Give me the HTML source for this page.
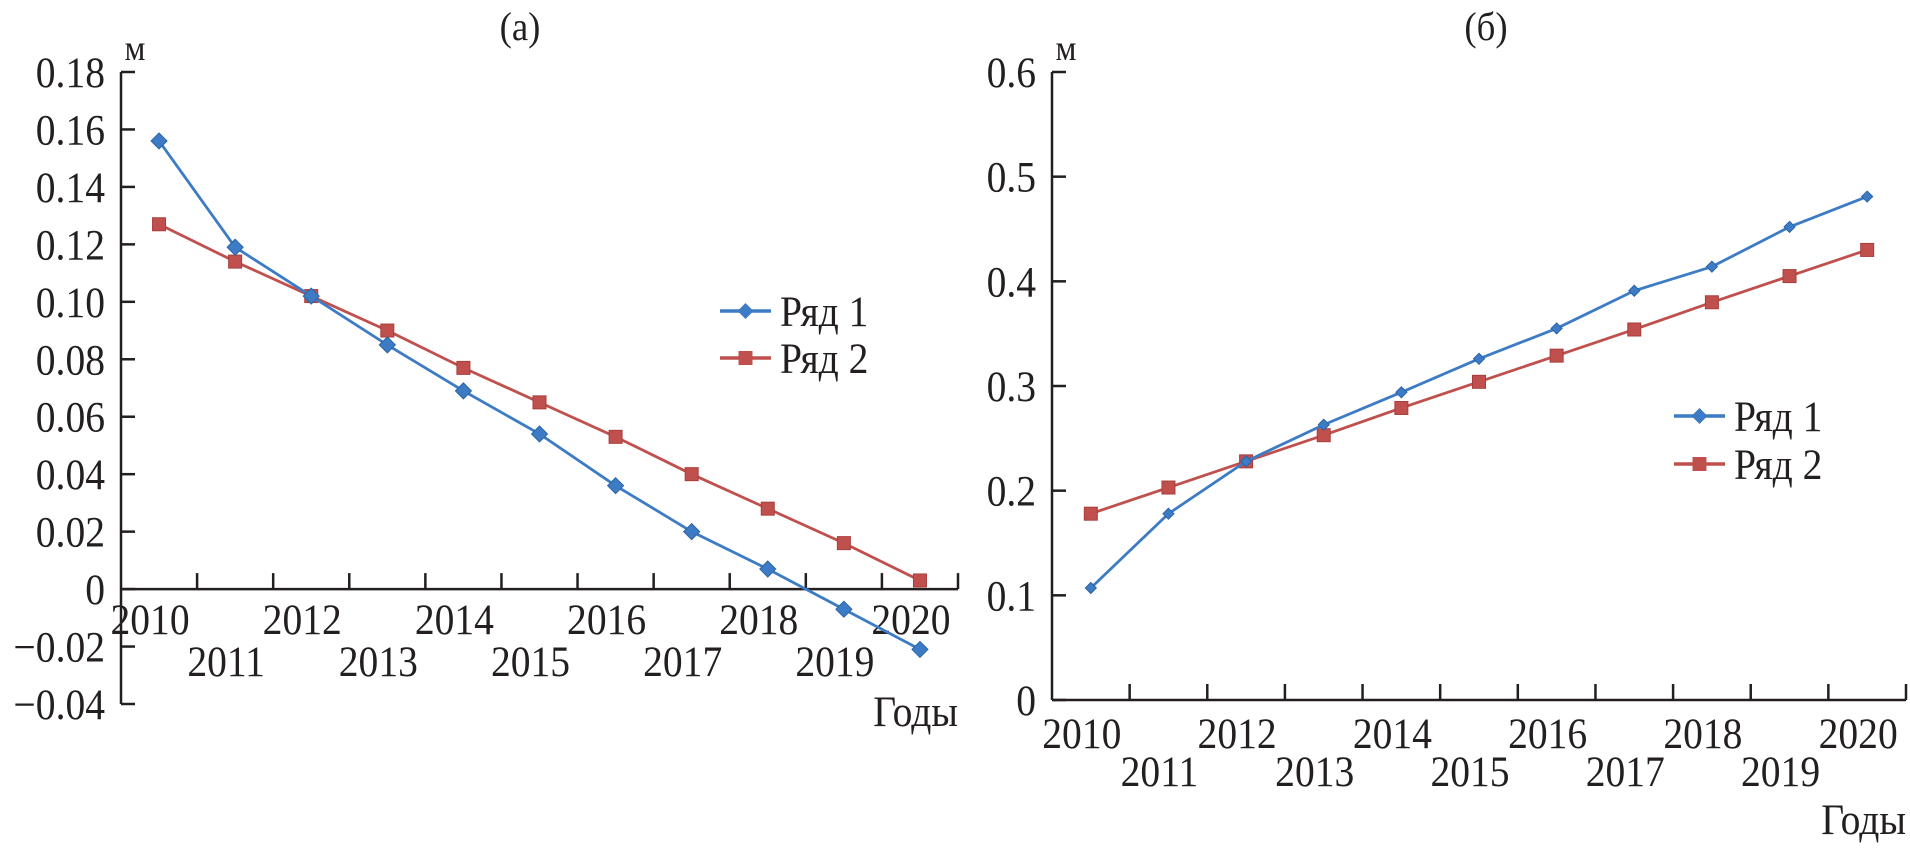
<!DOCTYPE html>
<html><head><meta charset="utf-8"><style>
html,body{margin:0;padding:0;background:#fff;}
svg{display:block;font-family:"Liberation Serif","DejaVu Serif",serif;}
</style></head><body>
<svg id="chart" width="1910" height="848" viewBox="0 0 1910 848" xmlns="http://www.w3.org/2000/svg"></svg>
<script>
const years = ['2010','2011','2012','2013','2014','2015','2016','2017','2018','2019','2020'];
const aSeries1 = [0.156,0.119,0.102,0.085,0.069,0.054,0.036,0.020,0.007,-0.007,-0.021];
const aSeries2 = [0.127,0.114,0.102,0.090,0.077,0.065,0.053,0.040,0.028,0.016,0.003];
const aTicks = ['0.18','0.16','0.14','0.12','0.10','0.08','0.06','0.04','0.02','0','\u22120.02','\u22120.04'];
const aTickVals = [0.18,0.16,0.14,0.12,0.10,0.08,0.06,0.04,0.02,0,-0.02,-0.04];
const bSeries1 = [0.107,0.178,0.228,0.263,0.294,0.326,0.355,0.391,0.414,0.452,0.481];
const bSeries2 = [0.178,0.203,0.228,0.253,0.279,0.304,0.329,0.354,0.380,0.405,0.430];
const bTicks = ['0.6','0.5','0.4','0.3','0.2','0.1','0'];
const bTickVals = [0.6,0.5,0.4,0.3,0.2,0.1,0];

const NS='http://www.w3.org/2000/svg';
const svg=document.getElementById('chart');
const BLUE='#3d7cc4', RED='#c0504d';
function mk(tag,attrs,parent){const e=document.createElementNS(NS,tag);for(const k in attrs)e.setAttribute(k,attrs[k]);(parent||svg).appendChild(e);return e;}
function txt(g,s,x,y,anchor,size,name){
  const t=mk('text',{transform:`translate(${x},${y}) scale(0.92,1)`,'text-anchor':anchor,'font-size':size,fill:'#231f20'},g);
  
  
  t.textContent=s;return t;
}

function panel(id,cfg){
  const g=mk('g',{});
  
  
  const {x0,x1,yTop,yTopVal,yBot,yBotVal,zeroVal}=cfg;
  const n=years.length, step=(x1-x0)/n;
  const X=i=>x0+step*(i+0.5);
  const Y=v=>yTop+(yTopVal-v)*(yBot-yTop)/(yTopVal-yBotVal);
  const y0=Y(zeroVal);
  const ya=mk('line',{x1:x0,y1:yTop,x2:x0,y2:yBot,stroke:'#231f20','stroke-width':2.5},g);
  
  const xa=mk('line',{x1:x0,y1:y0,x2:x1,y2:y0,stroke:'#231f20','stroke-width':2.5},g);
  
  cfg.tickVals.forEach((v,i)=>{
    const yy=Y(v);
    const t=mk('line',{x1:x0,y1:yy,x2:x0+14,y2:yy,stroke:'#231f20','stroke-width':2.5},g);
    
    txt(g,cfg.ticks[i],x0-16,yy+15,'end',43,'y-tick-label');
  });
  for(let i=1;i<=n;i++){
    const xx=x0+step*i;
    const t=mk('line',{x1:xx,y1:y0,x2:xx,y2:y0-16,stroke:'#231f20','stroke-width':2.5},g);
    
  }
  years.forEach((yr,i)=>{
    const yy=(i%2===0)?cfg.evenY:cfg.oddY;
    txt(g,yr,X(i)-9,yy+15,'middle',43,'x-tick-label');
  });
  txt(g,'Годы',x1,cfg.godyY+15,'end',43,'x-axis-title');
  txt(g,'м',x0+14,cfg.mY+10,'middle',36,'y-axis-unit');
  txt(g,cfg.title,cfg.titleX,40,'middle',40,'panel-title');
  const draw=(vals,color,shape,sz,name)=>{
    const pts=vals.map((v,i)=>`${X(i)},${Y(v)}`).join(' ');
    const pl=mk('polyline',{points:pts,fill:'none',stroke:color,'stroke-width':2.8},g);
    
    vals.forEach((v,i)=>{
      let m;
      if(shape==='d'){const cx=X(i),cy=Y(v);m=mk('polygon',{points:`${cx},${cy-sz} ${cx+sz},${cy} ${cx},${cy+sz} ${cx-sz},${cy}`,fill:color,stroke:'#2a64a8','stroke-width':1},g);}
      else{m=mk('rect',{x:X(i)-sz,y:Y(v)-sz,width:2*sz,height:2*sz,fill:color,stroke:'#a83e3b','stroke-width':1},g);}
      
    });
  };
  draw(cfg.s2,RED,'s',6.5,'series-2');
  draw(cfg.s1,BLUE,'d',cfg.dsz,'series-1');
  const L=cfg.leg;
  [[BLUE,'d','Ряд 1',L.y1],[RED,'s','Ряд 2',L.y2]].forEach(([c,s,lab,ly],k)=>{
    const lg=mk('g',{},g);
    
    mk('line',{x1:L.x,y1:ly,x2:L.x+51,y2:ly,stroke:c,'stroke-width':3.5},lg);
    const cx=L.x+25.5;
    if(s==='d')mk('polygon',{points:`${cx},${ly-8} ${cx+8},${ly} ${cx},${ly+8} ${cx-8},${ly}`,fill:c},lg);
    else mk('rect',{x:cx-7,y:ly-7,width:14,height:14,fill:c},lg);
    txt(lg,lab,L.x+60,ly+15,'start',43,'legend-label');
  });
}

panel('panel-a',{x0:121,x1:958,yTop:72,yTopVal:0.18,yBot:704,yBotVal:-0.04,zeroVal:0,
  ticks:aTicks,tickVals:aTickVals,s1:aSeries1,s2:aSeries2,dsz:8,
  evenY:619,oddY:661,godyY:711,mY:50,title:'(a)',titleX:520,leg:{x:720,y1:311,y2:358}});
panel('panel-b',{x0:1052,x1:1906,yTop:72,yTopVal:0.6,yBot:700,yBotVal:0,zeroVal:0,
  ticks:bTicks,tickVals:bTickVals,s1:bSeries1,s2:bSeries2,dsz:5.5,
  evenY:733,oddY:771,godyY:819,mY:50,title:'(б)',titleX:1486,leg:{x:1674,y1:416,y2:464}});
</script>
</body></html>
